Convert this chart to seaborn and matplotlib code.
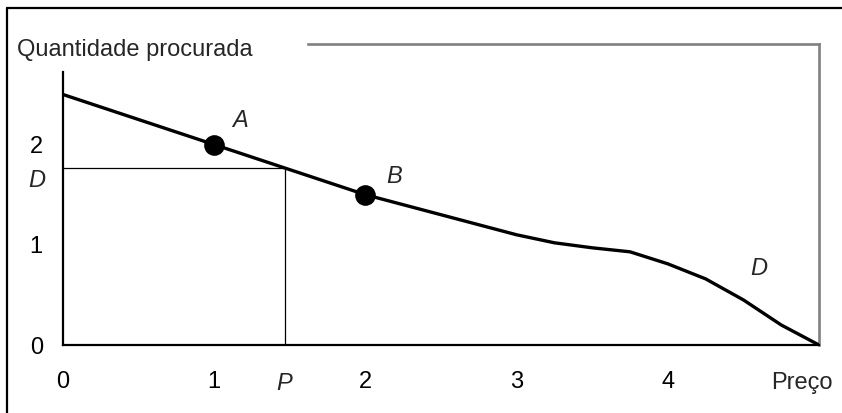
import matplotlib
matplotlib.use("Agg")
import matplotlib.pyplot as plt
from matplotlib.lines import Line2D
import seaborn as sns
import pandas as pd

# Demand curve: quantity demanded as a function of price
preco = [0, 1, 2, 2.5, 3, 3.25, 3.5, 3.75, 4, 4.25, 4.5, 4.75, 5]
quantidade = [2.5, 2.0, 1.5, 1.3, 1.1, 1.02, 0.97, 0.93, 0.81, 0.66, 0.45, 0.2, 0.0]

# Highlighted points A and B on the curve
pontos_x = [1, 2]
pontos_y = [2.0, 1.5]

# Price P and the corresponding quantity D
p_valor = 1.47
d_valor = 1.765

x_ticks = [0, 1, 2, 3, 4, 5]
x_ticklabels = ["0", "1", "2", "3", "4", ""]
y_ticks = [0, 1, 2]
y_ticklabels = ["0", "1", "2"]

sns.set_style("white")
plt.rcParams["font.family"] = ["Liberation Sans", "DejaVu Sans"]
FS = 17

fig = plt.figure(figsize=(8.42, 4.13), dpi=100)
ax = fig.add_axes([63 / 842, 68 / 413, 756 / 842, (345 - 44.4) / 413])

curva = pd.DataFrame({"preco": preco, "quantidade": quantidade})
pontos = pd.DataFrame({"preco": pontos_x, "quantidade": pontos_y})

# guide lines for P and D
ax.plot([0, p_valor], [d_valor, d_valor], color="black", lw=0.9, zorder=2)
ax.plot([p_valor, p_valor], [0, d_valor], color="black", lw=0.9, zorder=2)

sns.lineplot(data=curva, x="preco", y="quantidade", ax=ax, color="black",
             lw=2.4, zorder=3, sort=False)
sns.scatterplot(data=pontos, x="preco", y="quantidade", ax=ax, color="black",
                s=190, edgecolor="black", zorder=4, legend=False)

ax.set_xlim(0, 5)
ax.set_ylim(0, 3)
ax.set_xlabel("")
ax.set_ylabel("")

ax.set_xticks(x_ticks)
ax.set_xticklabels(x_ticklabels, fontsize=FS)
ax.set_yticks(y_ticks)
ax.set_yticklabels(y_ticklabels, fontsize=FS)
ax.tick_params(axis="x", direction="out", length=6, width=1.5, pad=12.5, colors="black")
ax.tick_params(axis="y", direction="out", length=6, width=1.5, pad=8.5, colors="black")

for s in ["left", "bottom"]:
    ax.spines[s].set_color("black")
    ax.spines[s].set_linewidth(1.6)
ax.spines["left"].set_bounds(0, 2.72)
for s in ["top", "right"]:
    ax.spines[s].set_visible(True)
    ax.spines[s].set_color("#808080")
    ax.spines[s].set_linewidth(1.9)
ax.spines["top"].set_bounds(1.62, 5)

# point labels
ax.text(1.17, 2.245, "A", fontsize=FS, style="italic", ha="center", va="center")
ax.text(2.19, 1.68, "B", fontsize=FS, style="italic", ha="center", va="center")
ax.text(4.6, 0.76, "D", fontsize=FS, style="italic", ha="center", va="center")

# P and D markers on the axes, price axis title
ax.text(-0.12, 1.64, "D", fontsize=FS, style="italic", ha="right", va="center", clip_on=False)
ax.text(p_valor - 0.01, -0.38, "P", fontsize=FS, style="italic", ha="center", va="center", clip_on=False)
ax.text(4.89, -0.38, "Preço", fontsize=FS, ha="center", va="center", clip_on=False)

# quantity axis title
ax.text(-0.305, 2.94, "Quantidade procurada", fontsize=FS, ha="left", va="center", clip_on=False)

# outer frame
fig.add_artist(Line2D([7 / 842, 1.0], [1 - 8 / 413, 1 - 8 / 413], color="black", lw=1.6,
                      transform=fig.transFigure))
fig.add_artist(Line2D([7 / 842, 7 / 842], [0.0, 1 - 8 / 413], color="black", lw=1.6,
                      transform=fig.transFigure))

fig.savefig("out.png", dpi=100, facecolor="white")
